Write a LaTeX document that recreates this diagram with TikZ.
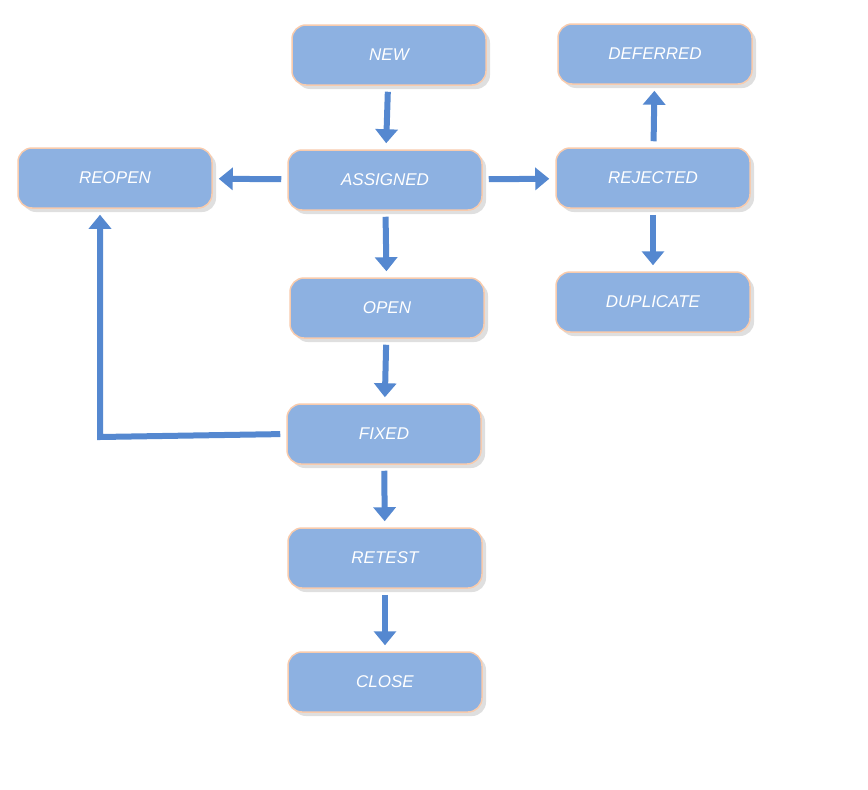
\documentclass[tikz,border=0pt]{standalone}
\usepackage{fontspec}
\setmainfont{Liberation Sans}
\usetikzlibrary{arrows.meta,shadows}
\definecolor{boxfill}{HTML}{8DB1E1}
\definecolor{boxline}{HTML}{F8CBAD}
\definecolor{arr}{HTML}{5588D0}
\begin{document}
\begin{tikzpicture}[x=1pt,y=-1pt,
  st/.style={rounded corners=14pt,fill=boxfill,draw=boxline,line width=1.5pt,
    minimum width=194pt,minimum height=60pt,inner sep=0pt,
    drop shadow={shadow xshift=4pt,shadow yshift=-4pt,opacity=0.25},
    text=white,font=\itshape\fontsize{17}{20}\selectfont},
  ar/.style={draw=arr,line width=6pt,-{Triangle[length=14pt,width=22pt]},shorten >=6pt,shorten <=6pt}]
\useasboundingbox (0,0) rectangle (868,790);
\node[st] (new) at (389,55) {NEW};
\node[st] (asg) at (385,180) {ASSIGNED};
\node[st] (reo) at (115,178) {REOPEN};
\node[st] (rej) at (653,178) {REJECTED};
\node[st] (def) at (655,54) {DEFERRED};
\node[st] (dup) at (653,302) {DUPLICATE};
\node[st] (open) at (387,308) {OPEN};
\node[st] (fix) at (384,434) {FIXED};
\node[st] (ret) at (385,558) {RETEST};
\node[st] (clo) at (385,682) {CLOSE};
\coordinate (c) at (100,437);
\draw[ar] (new) -- (asg);
\draw[ar] (asg) -- (reo);
\draw[ar] (asg) -- (rej);
\draw[ar] (asg) -- (open);
\draw[ar] (rej) -- (def);
\draw[ar] (rej) -- (dup);
\draw[ar] (open) -- (fix);
\draw[ar] (fix) -- (ret);
\draw[ar] (ret) -- (clo);
\draw[ar,shorten <=6pt] (fix.west) -- (c) -- (reo.south -| c);
\end{tikzpicture}
\end{document}
